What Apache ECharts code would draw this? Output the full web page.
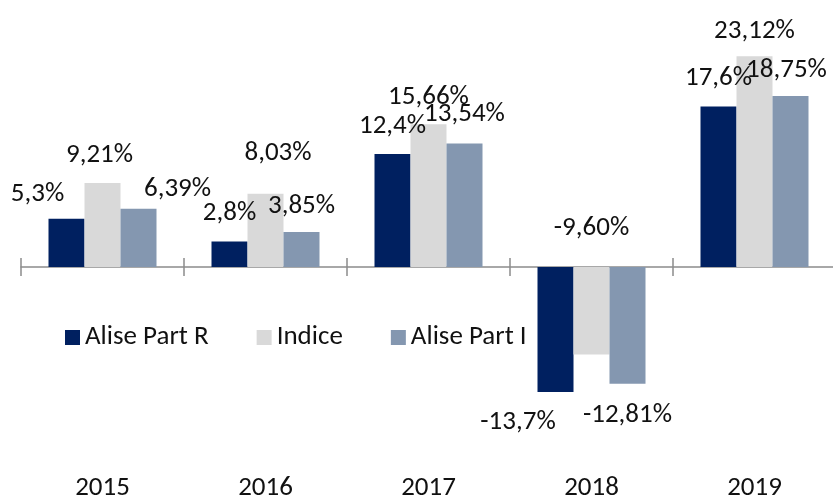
<!DOCTYPE html>
<html>
<head>
<meta charset="utf-8">
<script src="https://cdn.jsdelivr.net/npm/echarts@6/dist/echarts.min.js"></script>
<style>
html,body{margin:0;padding:0;background:#fff;}
#chart{width:833px;height:496px;}
</style>
</head>
<body>
<div id="chart"></div>
<script>
const categories = ['2015', '2016', '2017', '2018', '2019'];
const seriesNames = ['Alise Part R', 'Indice', 'Alise Part I'];
const aliseR = [5.3, 2.8, 12.4, -13.7, 17.6];
const indice = [9.21, 8.03, 15.66, -9.60, 23.12];
const aliseI = [6.39, 3.85, 13.54, -12.81, 18.75];
const labelText = [
  ['5,3%', '2,8%', '12,4%', '-13,7%', '17,6%'],
  ['9,21%', '8,03%', '15,66%', '-9,60%', '23,12%'],
  ['6,39%', '3,85%', '13,54%', '-12,81%', '18,75%']
];

// label placement tweaks (px) — layout only
const labelOffsets = [
  [[-29, 3], [0, -1], [0, -1], [-37.5, 3], [0, -1]],
  [[-3, -1], [12.5, -13.5], [0, 0], [0, -12], [0, 2]],
  [[39, 8], [0, 1], [0, -2], [0, 4], [-4, 1]]
];
const labelSide = [
  ['top', 'top', 'top', 'bottom', 'top'],
  ['top', 'top', 'top', 'top', 'top'],
  ['top', 'top', 'top', 'bottom', 'top']
];

const colors = ['#002060', '#D9D9D9', '#8497B0'];
const values = [aliseR, indice, aliseI];
const FONT = 'Carlito, Lato, sans-serif';

const chart = echarts.init(document.getElementById('chart'), null, {renderer: 'canvas'});

const series = values.map((vals, s) => ({
  name: seriesNames[s],
  type: 'bar',
  xAxisIndex: 0,
  yAxisIndex: 0,
  barWidth: 36,
  barGap: '0%',
  z: 5,
  itemStyle: {color: colors[s]},
  label: {
    show: true,
    distance: 13,
    color: '#111',
    fontFamily: FONT,
    fontSize: 27,
    lineHeight: 28
  },
  data: vals.map((v, i) => ({
    value: v,
    label: {
      position: labelSide[s][i],
      offset: labelOffsets[s][i],
      formatter: () => labelText[s][i]
    }
  }))
}));

const option = {
  animation: false,
  backgroundColor: '#fff',
  textStyle: {fontFamily: FONT},
  grid: {left: 21, right: -3, top: 39, bottom: 46.6, containLabel: false, outerBoundsMode: 'none'},
  legend: {
    left: 65,
    top: 323.5,
    padding: 0,
    z: 1,
    itemWidth: 15,
    itemHeight: 15,
    itemGap: 48,
    icon: 'rect',
    textStyle: {fontFamily: FONT, fontSize: 27, color: '#111', lineHeight: 28},
    data: seriesNames
  },
  xAxis: [
    {
      type: 'category',
      data: categories,
      position: 'bottom',
      axisLine: {show: true, onZero: true, onZeroAxisIndex: 0, lineStyle: {color: '#8c8c8c', width: 1.5}},
      axisTick: {show: true, length: 9, inside: false, lineStyle: {color: '#8c8c8c', width: 1.5}},
      axisLabel: {show: false},
      splitLine: {show: false}
    },
    {
      type: 'category',
      data: categories,
      position: 'bottom',
      axisLine: {show: false, onZero: true, onZeroAxisIndex: 0},
      axisTick: {show: true, length: 9, inside: true, lineStyle: {color: '#8c8c8c', width: 1.5}},
      axisLabel: {show: false},
      splitLine: {show: false}
    },
    {
      type: 'category',
      data: categories,
      position: 'bottom',
      axisLine: {show: false, onZero: false},
      axisTick: {show: false},
      axisLabel: {show: true, margin: 25, color: '#111', fontFamily: FONT, fontSize: 27, lineHeight: 28},
      splitLine: {show: false}
    }
  ],
  yAxis: {
    type: 'value',
    min: -20,
    max: 25,
    interval: 5,
    show: false,
    splitLine: {show: false}
  },
  series: series
};

chart.setOption(option);
</script>
</body>
</html>
